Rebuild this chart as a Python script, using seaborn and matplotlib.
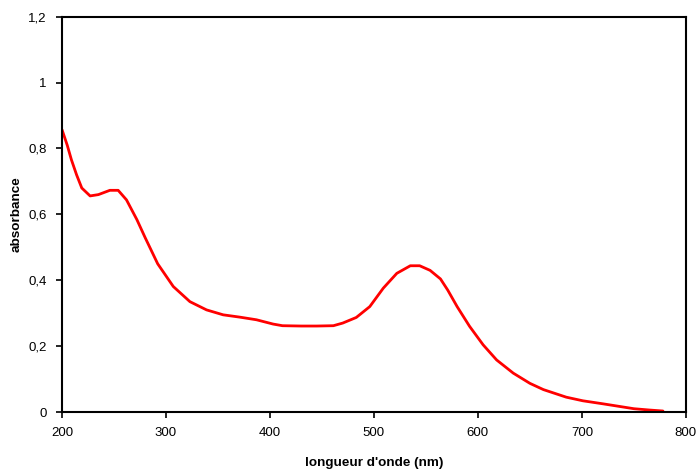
import matplotlib
matplotlib.use("Agg")
import matplotlib.pyplot as plt
import numpy as np
import pandas as pd
import seaborn as sns

# absorption spectrum
wavelength = [200, 205, 209, 214, 219, 227, 235, 246, 254, 262, 272, 280,
              292, 307, 323, 339, 355, 371, 387, 403, 412, 430, 445, 461,
              470, 483, 496, 509, 522, 535, 544, 554, 564, 571, 580, 592, 605,
              618, 634, 650, 663, 685, 701, 720, 734, 750, 765, 778]
absorbance = [0.857, 0.81, 0.766, 0.72, 0.68, 0.656, 0.66, 0.673, 0.673, 0.644,
              0.584, 0.529, 0.45, 0.381, 0.335, 0.31, 0.295, 0.288,
              0.28, 0.267, 0.262, 0.261, 0.261, 0.262, 0.27, 0.287, 0.32,
              0.376, 0.421, 0.444, 0.444, 0.43, 0.404, 0.37, 0.32, 0.26, 0.204,
              0.158, 0.118, 0.087, 0.068, 0.045, 0.034, 0.025, 0.018, 0.01,
              0.006, 0.003]

x_ticks = [200, 300, 400, 500, 600, 700, 800]
y_ticks = [0, 0.2, 0.4, 0.6, 0.8, 1.0, 1.2]
y_labels = ["0", "0,2", "0,4", "0,6", "0,8", "1", "1,2"]

sns.set_style("white")
plt.rcParams["font.family"] = ["Liberation Sans", "DejaVu Sans"]
plt.rcParams["text.color"] = "black"
plt.rcParams["axes.labelcolor"] = "black"

df = pd.DataFrame({"wl": wavelength, "abs": absorbance})

fig = plt.figure(figsize=(6.97, 4.70), dpi=100)
ax = fig.add_axes([0.089, 0.1234, 0.895, 0.841])
sns.lineplot(data=df, x="wl", y="abs", ax=ax, color="#ff0000", linewidth=2)

ax.set_xlim(200, 800)
ax.set_ylim(0, 1.2)
ax.set_xticks(x_ticks)
ax.set_xticklabels([str(t) for t in x_ticks])
ax.set_yticks(y_ticks)
ax.set_yticklabels(y_labels)
ax.tick_params(direction="out", length=4, width=1.2, labelsize=9.5,
               bottom=True, left=True, colors="black")
ax.tick_params(axis="x", pad=7)
ax.tick_params(axis="y", pad=7)
for s in ax.spines.values():
    s.set_color("black")
    s.set_linewidth(1.5)

ax.set_xlabel("longueur d'onde (nm)", fontsize=9.7, fontweight="bold", labelpad=13)
ax.set_ylabel("absorbance", fontsize=9.7, fontweight="bold", labelpad=4)

fig.savefig("out.png", dpi=100)
